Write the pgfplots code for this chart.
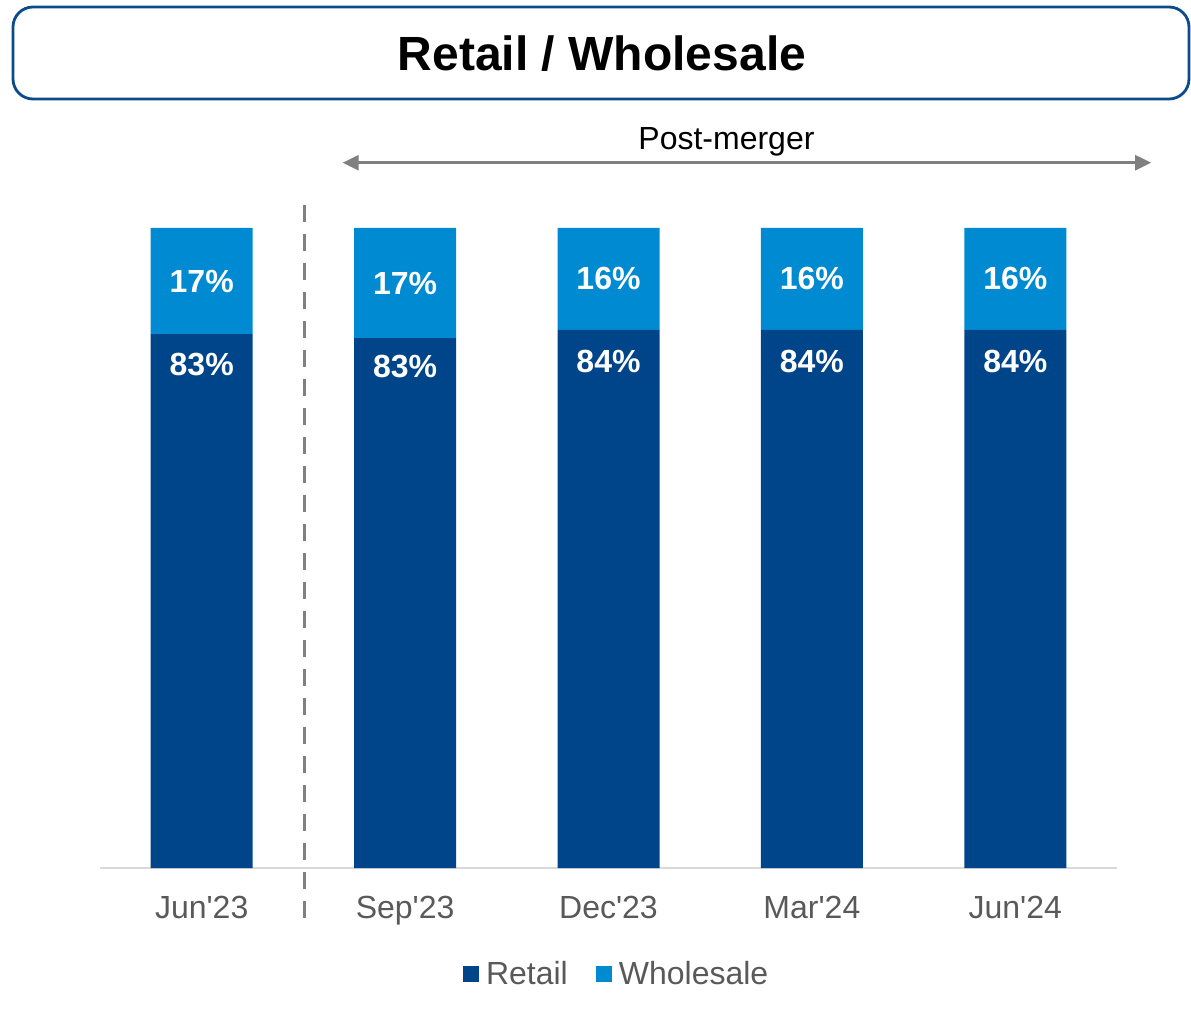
\documentclass[border=0pt]{standalone}
\usepackage{pgfplots}
\pgfplotsset{compat=1.18}
\usepackage{fontspec}
\setmainfont{Liberation Sans}
\usetikzlibrary{arrows.meta}
\definecolor{retail}{HTML}{004589}
\definecolor{wholesale}{HTML}{008AD2}
\definecolor{txtgrey}{HTML}{595959}
\definecolor{lngrey}{HTML}{808080}
\definecolor{boxblue}{HTML}{0B4A8B}
\pgfplotstableread{
x retail wholesale rl wl
0 83.4 16.6 83 17
1 82.8 17.2 83 17
2 84.1 15.9 84 16
3 84.1 15.9 84 16
4 84.1 15.9 84 16
}\datatable
\begin{document}
\begin{tikzpicture}[x=1pt,y=1pt]
\path[use as bounding box] (0,0) rectangle (595.5,504.5);
\draw[boxblue, line width=1.4pt, rounded corners=10pt] (6.5,455) rectangle (594.5,501);
\node[font=\fontsize{24}{28}\selectfont\bfseries] at (301,477.5) {Retail / Wholesale};
\begin{axis}[
  at={(50pt,70.5pt)}, anchor=south west,
  scale only axis, width=508.5pt, height=320pt,
  xmin=-0.5, xmax=4.5, ymin=0, ymax=100,
  ybar stacked, bar width=51pt,
  axis y line=none, axis x line*=bottom,
  x axis line style={draw=black!15, line width=0.8pt, -},
  xtick=data, xticklabels={Jun\textquotesingle23,Sep\textquotesingle23,Dec\textquotesingle23,Mar\textquotesingle24,Jun\textquotesingle24},
  major tick length=0pt,
  xticklabel style={font=\fontsize{16}{19}\selectfont, text=txtgrey, yshift=-10.5pt},
  clip=false,
  /pgf/number format/assume math mode=true,
  point meta=explicit,
  nodes near coords={\pgfmathprintnumber{\pgfplotspointmeta}\%},
  nodes near coords style={text=white, font=\fontsize{16}{19}\selectfont\bfseries, anchor=center},
  legend style={at={(0.509,-0.166)}, anchor=center, draw=none, fill=none,
    legend columns=2, font=\fontsize{16}{19}\selectfont, text=txtgrey,
    /tikz/every even column/.append style={column sep=12pt}},
  legend image code/.code={\fill[#1] (0pt,-4pt) rectangle (8pt,4pt); \path (9.5pt,0pt);},
]
\addplot[fill=retail, draw=none, nodes near coords style={yshift=118.5pt}] table[x=x, y=retail, meta=rl] {\datatable};
\addlegendentry{Retail}
\addplot[fill=wholesale, draw=none] table[x=x, y=wholesale, meta=wl] {\datatable};
\addlegendentry{Wholesale}
\draw[lngrey, line width=1.7pt, dash pattern=on 8.5pt off 6pt] (axis cs:0.505,103.6) -- (axis cs:0.505,-7.8);
\draw[lngrey, line width=1.3pt, {Triangle[length=8pt,width=7.5pt]}-{Triangle[length=8pt,width=7.5pt]}] (axis cs:0.693,110.2) -- (axis cs:4.668,110.2);
\node[font=\fontsize{16}{19}\selectfont] at (axis cs:2.58,113.4) {Post-merger};
\end{axis}
\end{tikzpicture}
\end{document}
